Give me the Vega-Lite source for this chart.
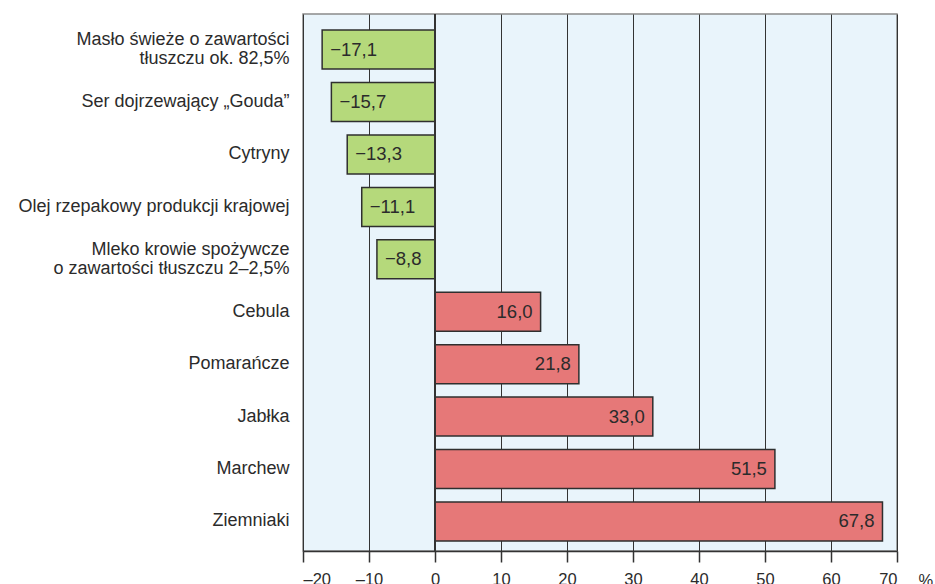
{
  "$schema": "https://vega.github.io/schema/vega-lite/v6.json",
  "width": 594,
  "height": 537,
  "autosize": "none",
  "padding": {"left": 303, "top": 14, "right": 38, "bottom": 33},
  "background": "white",
  "config": {
    "font": "Liberation Sans",
    "view": {"fill": "#e9f4fb", "stroke": "#8a8a8a", "strokeWidth": 1.5}
  },
  "data": {
    "values": [
      {"name": "Masło świeże o zawartości|tłuszczu ok. 82,5%", "v": -17.1, "grp": "neg"},
      {"name": "Ser dojrzewający „Gouda”", "v": -15.7, "grp": "neg"},
      {"name": "Cytryny", "v": -13.3, "grp": "neg"},
      {"name": "Olej rzepakowy produkcji krajowej", "v": -11.1, "grp": "neg"},
      {"name": "Mleko krowie spożywcze|o zawartości tłuszczu 2–2,5%", "v": -8.8, "grp": "neg"},
      {"name": "Cebula", "v": 16.0, "grp": "pos"},
      {"name": "Pomarańcze", "v": 21.8, "grp": "pos"},
      {"name": "Jabłka", "v": 33.0, "grp": "pos"},
      {"name": "Marchew", "v": 51.5, "grp": "pos"},
      {"name": "Ziemniaki", "v": 67.8, "grp": "pos"}
    ]
  },
  "transform": [
    {"calculate": "replace(replace(format(datum.v, '.1f'), '.', ','), '-', '–')", "as": "lbl"}
  ],
  "encoding": {
    "y": {
      "field": "name",
      "type": "nominal",
      "sort": null,
      "scale": {"paddingInner": 0.256, "paddingOuter": 0.25, "align": 0.615},
      "axis": {
        "title": null,
        "ticks": false,
        "domain": false,
        "labelPadding": 14,
        "labelFontSize": 18,
        "labelColor": "#2b2b2b",
        "labelLineHeight": 19,
        "labelOffset": {"condition": {"test": "indexof(datum.value, '|') >= 0", "value": -9.5}, "value": 0},
        "labelExpr": "split(datum.label, '|')",
        "labelLimit": 400
      }
    }
  },
  "layer": [
    {
      "mark": {"type": "bar", "stroke": "#2f2f2f", "strokeWidth": 1.5},
      "encoding": {
        "x": {
          "field": "v",
          "type": "quantitative",
          "scale": {"domain": [-20, 70], "nice": false},
          "axis": {
            "values": [-20, -10, 0, 10, 20, 30, 40, 50, 60, 70],
            "labelExpr": "replace(format(datum.value, 'd'), '−', '–')",
            "grid": true,
            "gridColor": "#333333",
            "gridWidth": 1,
            "domainColor": "#333333",
            "domainWidth": 1.5,
            "tickColor": "#333333",
            "tickSize": 11,
            "tickWidth": 1.5,
            "labelFontSize": 16.5,
            "labelColor": "#2b2b2b",
            "labelPadding": 9,
            "labelBaseline": "top",
            "title": "%",
            "titleFontWeight": "normal",
            "titleFontSize": 16.5,
            "titleColor": "#2b2b2b",
            "titleX": 615,
            "titleY": 21,
            "titleAlign": "left",
            "titleBaseline": "top"
          }
        },
        "color": {
          "field": "grp",
          "type": "nominal",
          "scale": {"domain": ["neg", "pos"], "range": ["#b5d97b", "#e67878"]},
          "legend": null
        }
      }
    },
    {
      "mark": {"type": "rule", "color": "#333333", "strokeWidth": 2},
      "encoding": {"x": {"datum": 0}, "y": null}
    },
    {
      "transform": [{"filter": "datum.v < 0"}],
      "mark": {"type": "text", "align": "left", "dx": 8, "fontSize": 18.5, "color": "#2b2b2b"},
      "encoding": {"x": {"field": "v", "type": "quantitative"}, "text": {"field": "lbl"}}
    },
    {
      "transform": [{"filter": "datum.v > 0"}],
      "mark": {"type": "text", "align": "right", "dx": -8, "fontSize": 18.5, "color": "#2b2b2b"},
      "encoding": {"x": {"field": "v", "type": "quantitative"}, "text": {"field": "lbl"}}
    }
  ]
}
